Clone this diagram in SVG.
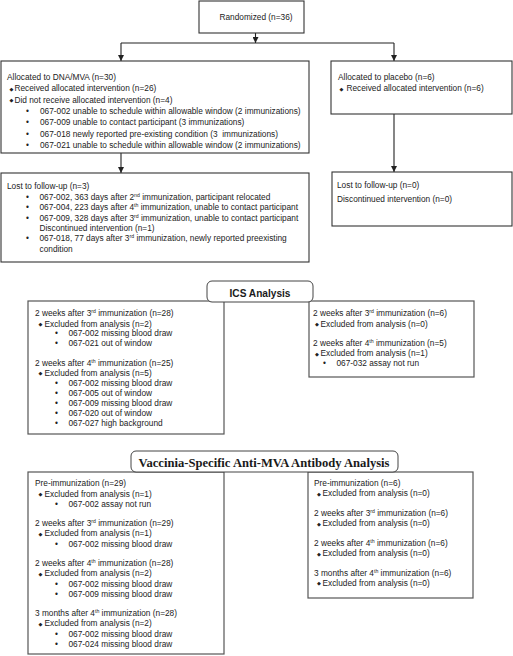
<svg xmlns="http://www.w3.org/2000/svg" width="513" height="656" viewBox="0 0 513 656">
<defs>
<marker id="ah" viewBox="0 0 6 6" refX="6" refY="3" markerWidth="6" markerHeight="6" markerUnits="userSpaceOnUse" orient="auto">
<path d="M0,0 L6,3 L0,6 z" fill="#222"/>
</marker>
<style>
text{font-family:"Liberation Sans",Arial,sans-serif;font-size:8.3px;fill:#222}
.box{fill:#fff;stroke:#333;stroke-width:1.1}
.box2{fill:#fff;stroke:#555;stroke-width:1.2}
.hdr{fill:#fff;stroke:#444;stroke-width:1}
.dia{font-family:"DejaVu Sans",sans-serif;font-size:5px}
.sup{font-size:5.2px}
.h1{font-family:"Liberation Sans",Arial,sans-serif;font-weight:bold;font-size:11px;fill:#1a1a1a}
.h2{font-family:"Liberation Serif","Times New Roman",serif;font-weight:bold;font-size:12.3px;fill:#1a1a1a}
.con{fill:none;stroke:#222;stroke-width:1.1}
</style>
</defs>

<g id="connectors">
<line class="con" x1="255.5" y1="33" x2="255.5" y2="43" marker-end="url(#ah)"/>
<line class="con" x1="121" y1="43" x2="394" y2="43"/>
<line class="con" x1="121" y1="43" x2="121" y2="61" marker-end="url(#ah)"/>
<line class="con" x1="394" y1="43" x2="394" y2="61" marker-end="url(#ah)"/>
<line class="con" x1="121" y1="153" x2="121" y2="173" marker-end="url(#ah)"/>
<line class="con" x1="394" y1="114" x2="394" y2="172" marker-end="url(#ah)"/>
</g>

<g id="randomized">
<rect class="box" x="199" y="1" width="105" height="32"/>
<text x="256" y="20" text-anchor="middle">Randomized (n=36)</text>
</g>

<g id="alloc-dna">
<rect class="box" x="1" y="61" width="308" height="92"/>
<text x="7" y="80">Allocated to DNA/MVA (n=30)</text>
<text class="dia" x="9.5" y="90.5">◆</text><text x="14.5" y="91.3">Received allocated intervention (n=26)</text>
<text class="dia" x="9.5" y="101.8">◆</text><text x="14.5" y="102.6">Did not receive allocated intervention (n=4)</text>
<text x="26" y="114">•</text><text x="40" y="114">067-002 unable to schedule within allowable window (2 immunizations)</text>
<text x="26" y="125.2">•</text><text x="40" y="125.2">067-009 unable to contact participant (3 immunizations)</text>
<text x="26" y="136.5">•</text><text x="40" y="136.5" xml:space="preserve">067-018 newly reported pre-existing condition (3  immunizations)</text>
<text x="26" y="147.8">•</text><text x="40" y="147.8">067-021 unable to schedule within allowable window (2 immunizations)</text>
</g>

<g id="alloc-placebo">
<rect class="box" x="331" y="61" width="181" height="53"/>
<text x="338" y="80">Allocated to placebo (n=6)</text>
<text class="dia" x="339.5" y="90.5">◆</text><text x="346.5" y="91.3">Received allocated intervention (n=6)</text>
</g>

<g id="lost-dna">
<rect class="box" x="1" y="173" width="308" height="89"/>
<text x="7" y="189">Lost to follow-up (n=3)</text>
<text x="26" y="199.8">•</text><text x="39.5" y="199.8">067-002, 363 days after 2<tspan class="sup" dy="-3">nd</tspan><tspan dy="3"> immunization, participant relocated</tspan></text>
<text x="26" y="210.3">•</text><text x="39.5" y="210.3">067-004, 223 days after 4<tspan class="sup" dy="-3">th</tspan><tspan dy="3"> immunization, unable to contact participant</tspan></text>
<text x="26" y="220.5">•</text><text x="39.5" y="220.5">067-009, 328 days after 3<tspan class="sup" dy="-3">rd</tspan><tspan dy="3"> immunization, unable to contact participant</tspan></text>
<text x="39.5" y="230.8">Discontinued intervention (n=1)</text>
<text x="26" y="241.2">•</text><text x="39.5" y="241.2">067-018, 77 days after 3<tspan class="sup" dy="-3">rd</tspan><tspan dy="3"> immunization, newly reported preexisting</tspan></text>
<text x="39.5" y="251.5">condition</text>
</g>

<g id="lost-placebo">
<rect class="box" x="332" y="172" width="180" height="54"/>
<text x="337" y="188">Lost to follow-up (n=0)</text>
<text x="337" y="202.3">Discontinued intervention (n=0)</text>
</g>

<g id="ics-dna">
<rect class="box2" x="28" y="301" width="196" height="133"/>
<text x="35" y="316.3">2 weeks after 3<tspan class="sup" dy="-3">rd</tspan><tspan dy="3"> immunization (n=28)</tspan></text>
<text class="dia" x="38.5" y="326.2">◆</text><text x="44.5" y="327">Excluded from analysis (n=2)</text>
<text x="55" y="336.3">•</text><text x="68.5" y="336.3">067-002 missing blood draw</text>
<text x="55" y="346">•</text><text x="68.5" y="346">067-021 out of window</text>
<text x="35" y="365.7">2 weeks after 4<tspan class="sup" dy="-3">th</tspan><tspan dy="3"> immunization (n=25)</tspan></text>
<text class="dia" x="38.5" y="375">◆</text><text x="44.5" y="375.7">Excluded from analysis (n=5)</text>
<text x="55" y="385.7">•</text><text x="68.5" y="385.7">067-002 missing blood draw</text>
<text x="55" y="395.7">•</text><text x="68.5" y="395.7">067-005 out of window</text>
<text x="55" y="405.7">•</text><text x="68.5" y="405.7">067-009 missing blood draw</text>
<text x="55" y="415.7">•</text><text x="68.5" y="415.7">067-020 out of window</text>
<text x="55" y="425.7">•</text><text x="68.5" y="425.7">067-027 high background</text>
</g>

<g id="ics-placebo">
<rect class="box2" x="309" y="301" width="165" height="76"/>
<text x="313" y="316.3">2 weeks after 3<tspan class="sup" dy="-3">rd</tspan><tspan dy="3"> immunization (n=6)</tspan></text>
<text class="dia" x="315" y="326.2">◆</text><text x="320.5" y="327">Excluded from analysis (n=0)</text>
<text x="313" y="346.3">2 weeks after 4<tspan class="sup" dy="-3">th</tspan><tspan dy="3"> immunization (n=5)</tspan></text>
<text class="dia" x="315" y="355.5">◆</text><text x="320.5" y="356.3">Excluded from analysis (n=1)</text>
<text x="323" y="366.3">•</text><text x="336.5" y="366.3">067-032 assay not run</text>
</g>

<g id="ics-header">
<rect class="hdr" x="207" y="281" width="106" height="21" rx="5"/>
<text class="h1" x="260" y="296.5" text-anchor="middle" textLength="61" lengthAdjust="spacingAndGlyphs">ICS Analysis</text>
</g>

<g id="ab-dna">
<rect class="box2" x="28" y="472" width="196" height="182"/>
<text x="35" y="485.7">Pre-immunization (n=29)</text>
<text class="dia" x="38.5" y="495.7">◆</text><text x="44.5" y="496.5">Excluded from analysis (n=1)</text>
<text x="55" y="507">•</text><text x="68.5" y="507">067-002 assay not run</text>
<text x="35" y="526.3">2 weeks after 3<tspan class="sup" dy="-3">rd</tspan><tspan dy="3"> immunization (n=29)</tspan></text>
<text class="dia" x="38.5" y="535.5">◆</text><text x="44.5" y="536.3">Excluded from analysis (n=1)</text>
<text x="55" y="547">•</text><text x="68.5" y="547">067-002 missing blood draw</text>
<text x="35" y="566.3">2 weeks after 4<tspan class="sup" dy="-3">th</tspan><tspan dy="3"> immunization (n=28)</tspan></text>
<text class="dia" x="38.5" y="575.5">◆</text><text x="44.5" y="576.3">Excluded from analysis (n=2)</text>
<text x="55" y="587">•</text><text x="68.5" y="587">067-002 missing blood draw</text>
<text x="55" y="597">•</text><text x="68.5" y="597">067-009 missing blood draw</text>
<text x="35" y="616.3">3 months after 4<tspan class="sup" dy="-3">th</tspan><tspan dy="3"> immunization (n=28)</tspan></text>
<text class="dia" x="38.5" y="625.5">◆</text><text x="44.5" y="626.3">Excluded from analysis (n=2)</text>
<text x="55" y="637">•</text><text x="68.5" y="637">067-002 missing blood draw</text>
<text x="55" y="647">•</text><text x="68.5" y="647">067-024 missing blood draw</text>
</g>

<g id="ab-placebo">
<rect class="box2" x="308" y="472" width="165" height="126"/>
<text x="314" y="485.7">Pre-immunization (n=6)</text>
<text class="dia" x="317" y="495.5">◆</text><text x="322.5" y="496.3">Excluded from analysis (n=0)</text>
<text x="314" y="516.3">2 weeks after 3<tspan class="sup" dy="-3">rd</tspan><tspan dy="3"> immunization (n=6)</tspan></text>
<text class="dia" x="317" y="525.5">◆</text><text x="322.5" y="526.3">Excluded from analysis (n=0)</text>
<text x="314" y="546.3">2 weeks after 4<tspan class="sup" dy="-3">th</tspan><tspan dy="3"> immunization (n=6)</tspan></text>
<text class="dia" x="317" y="555.5">◆</text><text x="322.5" y="556.3">Excluded from analysis (n=0)</text>
<text x="314" y="575.7">3 months after 4<tspan class="sup" dy="-3">th</tspan><tspan dy="3"> immunization (n=6)</tspan></text>
<text class="dia" x="317" y="585">◆</text><text x="322.5" y="585.7">Excluded from analysis (n=0)</text>
</g>

<g id="ab-header">
<rect class="hdr" x="131" y="451" width="267" height="21" rx="5"/>
<text class="h2" x="264" y="466.5" text-anchor="middle" textLength="251" lengthAdjust="spacingAndGlyphs">Vaccinia-Specific Anti-MVA Antibody Analysis</text>
</g>
</svg>
